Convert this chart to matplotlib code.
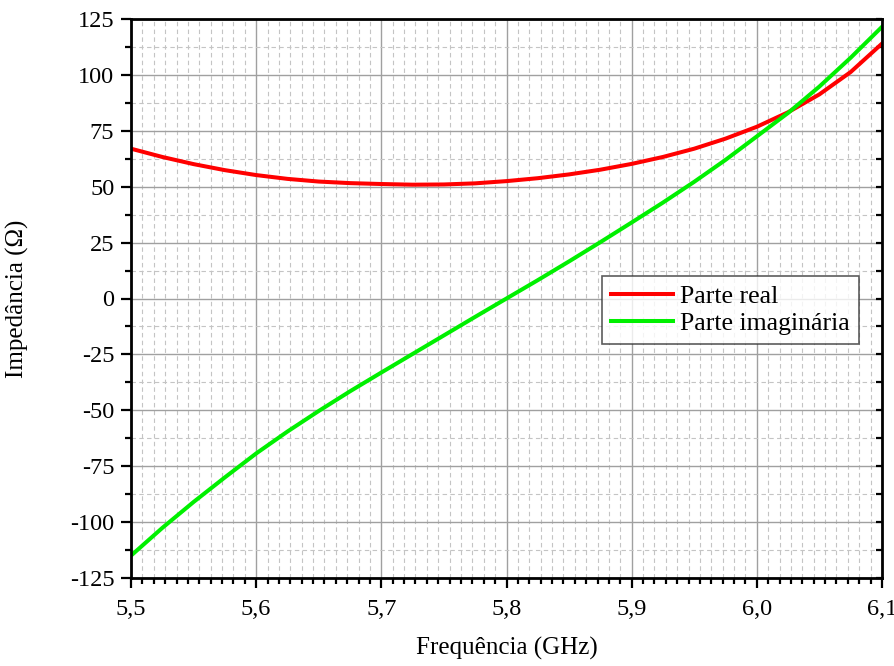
import matplotlib
matplotlib.use("Agg")
import matplotlib.pyplot as plt
from matplotlib.lines import TICKLEFT
from matplotlib.ticker import MultipleLocator, AutoMinorLocator, FuncFormatter

plt.rcParams['font.family'] = ['Liberation Serif', 'DejaVu Serif']

freq = [5.5, 5.525, 5.55, 5.575, 5.6, 5.625, 5.65, 5.675, 5.7, 5.725, 5.75,
        5.775, 5.8, 5.825, 5.85, 5.875, 5.9, 5.925, 5.95, 5.975, 6.0, 6.025,
        6.05, 6.075, 6.1]
parte_real = [67.0, 63.3, 60.1, 57.4, 55.2, 53.5, 52.3, 51.6, 51.2, 50.9, 51.0,
              51.5, 52.5, 53.8, 55.5, 57.6, 60.2, 63.3, 67.0, 71.5, 76.8, 83.3,
              91.3, 101.3, 114.0]
parte_imag = [-115.0, -102.6, -91.0, -80.0, -69.3, -59.5, -50.3, -41.5, -33.1,
              -24.8, -16.5, -8.2, 0.0, 8.2, 16.6, 25.2, 34.0, 42.9, 52.2, 62.0,
              72.5, 83.0, 94.8, 107.7, 121.5]

fig = plt.figure(figsize=(8.95, 6.66), dpi=100)
ax = fig.add_axes([131/895, 88/666, 751/895, 559/666])

ax.plot(freq, parte_real, color='#ff0000', lw=2.9, label='Parte real',
        solid_joinstyle='round', zorder=3)
ax.plot(freq, parte_imag, color='#00f000', lw=2.9, label='Parte imaginária',
        solid_joinstyle='round', zorder=3)

ax.set_xlim(5.5, 6.1)
ax.set_ylim(-125, 125)
ax.xaxis.set_major_locator(MultipleLocator(0.1))
ax.xaxis.set_minor_locator(AutoMinorLocator(11))
ax.yaxis.set_major_locator(MultipleLocator(25))
ax.yaxis.set_minor_locator(AutoMinorLocator(2))
ax.xaxis.set_major_formatter(FuncFormatter(lambda v, p: f"{v:.1f}".replace('.', ',')))
ax.yaxis.set_major_formatter(FuncFormatter(lambda v, p: f"{v:.0f}"))

ax.grid(which='major', color='#a0a0a0', lw=1.0, ls='-', zorder=0)
ax.grid(which='minor', color='#c4c4c4', lw=0.8, ls=(0, (4, 3)), zorder=0)

for s in ax.spines.values():
    s.set_linewidth(2.0)
    s.set_zorder(4)

ax.tick_params(axis='both', which='major', direction='out', length=7, width=1.6,
               labelsize=17.5, pad=5)
ax.tick_params(axis='both', which='minor', direction='out', length=4.5, width=1.6)
ax.tick_params(axis='y', which='both', right=True, left=True)
ax.tick_params(axis='x', which='both', top=False)
ax.tick_params(axis='x', which='major', pad=8)

# Right-hand ticks point into the plot area
for t in ax.yaxis.get_major_ticks() + ax.yaxis.get_minor_ticks():
    t.tick2line.set_marker(TICKLEFT)
    t.tick2line.set_markersize(4.3)

ax.set_xlabel('Frequência (GHz)', fontsize=18)
ax.set_ylabel('Impedância (Ω)', fontsize=18)
ax.xaxis.set_label_coords(0.5, -0.105)
ax.yaxis.set_label_coords(-0.136, 0.5)

leg = ax.legend(loc='upper left', bbox_to_anchor=(0.627, 0.540), fontsize=18.5,
                frameon=True, fancybox=False, edgecolor='#333333',
                handlelength=2.4, borderpad=0.35, labelspacing=0.15,
                handletextpad=0.3, borderaxespad=0)
leg.get_frame().set_linewidth(1.2)
leg.set_zorder(5)

fig.savefig('out.png', dpi=100)
